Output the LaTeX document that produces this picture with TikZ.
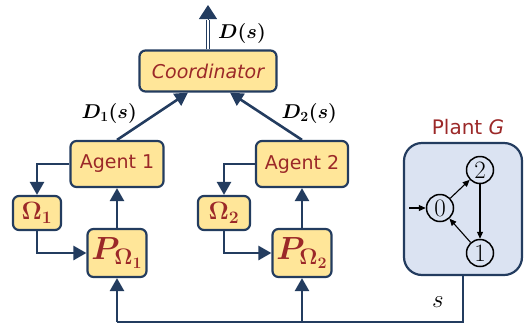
\RequirePackage{fix-cm}
\documentclass[tikz,border=0pt]{standalone}
\usepackage{amsmath,amssymb,bm}
\usepackage{fontspec}
\usetikzlibrary{arrows.meta}
\newfontfamily\blockfont{DejaVu Sans}

\definecolor{navy}{RGB}{35,60,95}
\definecolor{boxfill}{RGB}{255,230,153}
\definecolor{darkred}{RGB}{155,40,40}
\definecolor{plantfill}{RGB}{219,227,242}

\begin{document}
\begin{tikzpicture}[x=1pt,y=-1pt,
  >={Triangle[length=13pt,width=14pt]},
  block/.style={draw=navy, fill=boxfill, line width=2.2pt, rounded corners=6pt,
    text=darkred, inner sep=0pt, font=\blockfont\fontsize{19}{21}\selectfont},
  link/.style={draw=navy, line width=2.6pt},
  state/.style={circle, draw=black, line width=1.5pt, fill=plantfill,
    minimum size=27pt, inner sep=0pt, font=\fontsize{25}{25}\selectfont},
  trans/.style={draw=black, line width=1.1pt, -{Triangle[length=7pt,width=6pt]}},
  mlabel/.style={font=\fontsize{20}{20}\selectfont}]
  \useasboundingbox (0,0) rectangle (525,325);

  % blocks
  \node[block, minimum width=137pt, minimum height=41pt] (coord) at (208,71) {\itshape Coordinator};
  \node[block, minimum width=93pt, minimum height=46pt] (agent1) at (117,164) {Agent 1};
  \node[block, minimum width=92pt, minimum height=46pt] (agent2) at (302,164) {Agent 2};
  \node[block, minimum width=48pt, minimum height=34pt] (om1) at (37,213) {\fontsize{25}{25}\selectfont$\boldsymbol{\Omega_1}$};
  \node[block, minimum width=52pt, minimum height=34pt] (om2) at (224,213) {\fontsize{25}{25}\selectfont$\boldsymbol{\Omega_2}$};
  \node[block, minimum width=59pt, minimum height=48pt] (p1) at (117,253) {\fontsize{32}{32}\selectfont$\boldsymbol{P_{\Omega_1}}$};
  \node[block, minimum width=59pt, minimum height=48pt] (p2) at (302,253) {\fontsize{32}{32}\selectfont$\boldsymbol{P_{\Omega_2}}$};

  % plant
  \node[draw=navy, fill=plantfill, line width=2.2pt, rounded corners=18pt,
    minimum width=118pt, minimum height=132pt] (plant) at (463,209) {};
  \node[text=darkred, font=\blockfont\fontsize{20}{22}\selectfont] (plantlbl) at (468,127) {Plant \itshape G};
  \node[state] (s0) at (440,208) {$0$};
  \node[state] (s2) at (480,170) {$2$};
  \node[state] (s1) at (480,253) {$1$};
  \coordinate (init) at (409,208);
  \path[->, every edge/.append style={trans}]
  (init) edge (s0)
  (s0) edge (s2)
  (s2) edge (s1)
  (s1) edge (s0);

  % output of coordinator
  \coordinate (dbase) at (208,20);
  \coordinate (dtip) at (208,5);
  \draw[navy, line width=1.2pt, double=white, double distance=2.2pt] (coord.north) -- (dbase);
  \draw[navy, line width=1pt, -{Triangle[length=14pt,width=18pt]}] ([yshift=1pt]dbase) -- (dtip);
  \node[mlabel] (dlbl) at (242,33) {$\boldsymbol{D(s)}$};

  % connections
  \path[->, every edge/.append style={link}]
  (p1.north) edge (agent1.south)
  (p2.north) edge (agent2.south)
  (agent1.north) edge node[midway, left=11pt, yshift=3pt, mlabel] {$\boldsymbol{D_1(s)}$} ([xshift=-20pt]coord.south)
  (agent2.north) edge node[midway, right=11pt, yshift=3pt, mlabel] {$\boldsymbol{D_2(s)}$} ([xshift=22pt]coord.south);
  \draw[link, ->] (agent1.west) -| (om1.north);
  \draw[link, ->] (agent2.west) -| (om2.north);
  \draw[link, ->] (om1.south) |- (p1.west);
  \draw[link, ->] (om2.south) |- (p2.west);

  % feedback s
  \coordinate (bus1) at (117,322);
  \coordinate (bus2) at (302,322);
  \draw[link] (plant.south) |- (bus1);
  \draw[link, ->] (bus1) -- (p1.south);
  \draw[link, ->] (bus2) -- (p2.south);
  \node[font=\fontsize{25}{25}\selectfont] (slbl) at (438,302) {$s$};
\end{tikzpicture}
\end{document}
